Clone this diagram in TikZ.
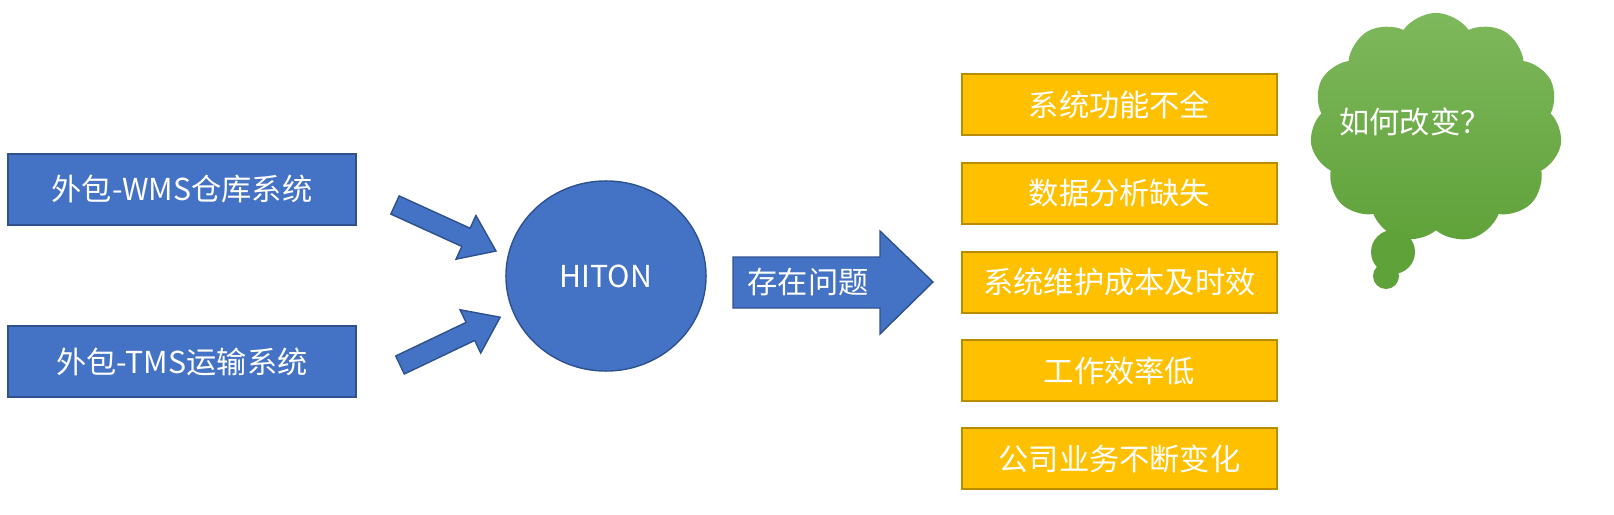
\documentclass[tikz,border=0pt]{standalone}
\usepackage{fontspec}
\setmainfont{Noto Sans CJK SC}
\usetikzlibrary{shapes.symbols,shapes.geometric}
\definecolor{bl}{HTML}{4472C4}
\definecolor{bld}{HTML}{2F528F}
\definecolor{org}{HTML}{FFC000}
\definecolor{orgd}{HTML}{BC8C00}
\definecolor{gtop}{HTML}{7EB85C}
\definecolor{gbot}{HTML}{60A23A}
\begin{document}
\begin{tikzpicture}[x=0.01cm,y=-0.01cm,
 txt/.style={text=white,font=\fontsize{8.6}{10}\selectfont},
 bbox/.style={txt,draw=bld,fill=bl,line width=0.4pt,minimum width=3.48cm,minimum height=0.71cm},
 obox/.style={txt,draw=orgd,fill=org,line width=0.4pt,minimum width=3.15cm,minimum height=0.61cm},
 barrow/.style={draw=bld,fill=bl,line width=0.4pt}]
\useasboundingbox (0,0) rectangle (1614,515);
\node[bbox] (wms) at (182,189.5) {外包-WMS仓库系统};
\node[bbox] (tms) at (182,361.5) {外包-TMS运输系统};
\node[txt,draw=bld,fill=bl,ellipse,minimum width=2cm,minimum height=1.9cm] (hiton) at (606,276) {HITON};
\begin{scope}[shift={(395,205)},rotate=-24.5]
\draw[barrow] (0,-10) -- (78,-10) -- (78,-24) -- (111,0) -- (78,24) -- (78,10) -- (0,10) -- cycle;
\end{scope}
\begin{scope}[shift={(400,365)},rotate=25.5]
\draw[barrow] (0,-10) -- (78,-10) -- (78,-24) -- (111,0) -- (78,24) -- (78,10) -- (0,10) -- cycle;
\end{scope}
\draw[barrow] (733,257) -- (880,257) -- (880,231) -- (933,282) -- (880,334) -- (880,308) -- (733,308) -- cycle;
\node[txt] (q) at (808,282) {存在问题};
\node[obox] (o1) at (1119.5,104.5) {系统功能不全};
\node[obox] (o2) at (1119.5,193.5) {数据分析缺失};
\node[obox] (o3) at (1119.5,282.5) {系统维护成本及时效};
\node[obox] (o4) at (1119.5,370.5) {工作效率低};
\node[obox] (o5) at (1119.5,458.5) {公司业务不断变化};
\node[cloud,cloud puffs=11,cloud puff arc=110,aspect=1.1,minimum width=2.52cm,minimum height=2.3cm,
 draw=none,top color=gtop,bottom color=gbot] (cl) at (1436,128) {};
\node[txt] (clt) at (1415,122) {如何改变？};
\fill[gbot] (1393,252) circle (22);
\fill[gbot] (1386,276) circle (13);
\end{tikzpicture}
\end{document}
